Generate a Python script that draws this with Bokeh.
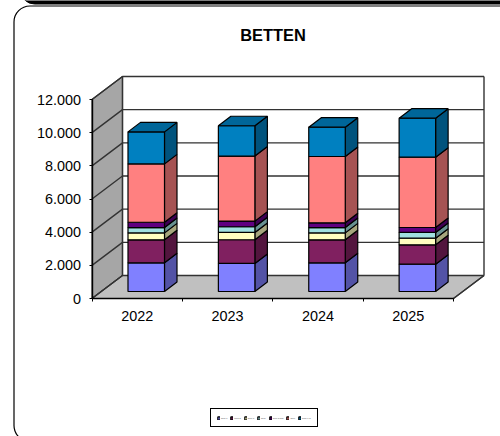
from bokeh.plotting import figure
from bokeh.models import Range1d, FixedTicker, Legend, LegendItem, Label
from bokeh.embed import file_html
from bokeh.resources import INLINE

title_text = "BETTEN"
years = ["2022", "2023", "2024", "2025"]
y_ticks = [0, 2000, 4000, 6000, 8000, 10000, 12000]
y_labels = ["0", "2.000", "4.000", "6.000", "8.000", "10.000", "12.000"]
series_names = ["Serie 1", "Serie 2", "Serie 3", "Serie", "Serie 5 lang", "Serie", "Serie 7 la"]
s1 = [1730, 1690, 1730, 1645]
s2 = [1385, 1430, 1385, 1170]
s3 = [420, 440, 420, 400]
s4 = [320, 345, 320, 345]
s5 = [320, 340, 285, 300]
s6 = [3520, 3920, 4000, 4240]
s7 = [1930, 1830, 1770, 2350]
series = [s1, s2, s3, s4, s5, s6, s7]
front_colors = ["#8080ff", "#802060", "#ffffc0", "#a0e0e0", "#600080", "#ff8080", "#0080c0"]
side_colors = ["#5353a6", "#53153e", "#a6a67d", "#689292", "#3e0053", "#a65353", "#00537d"]
top_color = "#006699"

PX_X = 90.375
PX_Y = 199 / 12000
X0, Y0 = 91.5, 298
W, H = 500, 436

def ux(px): return px / PX_X
def uy(px): return px / PX_Y
def dx(px): return (px - X0) / PX_X     # page pixel to data x
def dy(px): return (Y0 - px) / PX_Y     # page pixel to data y

p = figure(width=W, height=H, output_backend="svg", toolbar_location=None,
           x_range=Range1d(dx(0), dx(W)), y_range=Range1d(dy(H), dy(0)),
           min_border=0, outline_line_color=None,
           background_fill_color="white", border_fill_color="white")
p.grid.visible = False

# outer rounded frame and dark band
p.quad(left=[dx(13.5)], right=[dx(560)], top=[dy(5.5)], bottom=[dy(441)], fill_color=None,
       line_color="black", line_width=1.2, border_radius=16)
p.quad(left=[dx(20)], right=[dx(560)], top=[dy(-40)], bottom=[dy(3.5)], fill_color="black",
       line_color="black", border_radius=14)

DX, DY = ux(30.5), uy(23)
n = len(years)
ymax = y_ticks[-1]
line = "#333333"

p.patch([0, DX, DX, 0], [0, DY, DY + ymax, ymax], fill_color="#a6a6a6", line_color=line, line_width=1.2)
p.patch([0, DX, n + DX, n], [0, DY, DY, 0], fill_color="#c0c0c0", line_color=line, line_width=1.2)
xs_grid = [[0, DX, n + DX] for _ in y_ticks]
ys_grid = [[v, v + DY, v + DY] for v in y_ticks]
p.multi_line(xs_grid, ys_grid, line_color=line, line_width=1.4)
p.line([n + DX, n + DX], [DY, DY + ymax], line_color=line, line_width=1.4)
p.line([DX, DX], [DY, DY + ymax], line_color=line, line_width=1.4)
p.line([n, n + DX], [0, DY], line_color=line, line_width=1.4)

BAR_W = ux(36.5)
BDX, BDY = ux(12.5), uy(9.5)
OX, OY = ux(9.06), uy(7)
cum = [OY] * n
lefts = [i + 0.5 + OX - BAR_W / 2 for i in range(n)]
items = []
for vals, fc, sc, name in zip(series, front_colors, side_colors, series_names):
    bottoms = cum
    tops = [b + v for b, v in zip(bottoms, vals)]
    xs_side = [[l + BAR_W, l + BAR_W + BDX, l + BAR_W + BDX, l + BAR_W] for l in lefts]
    ys_side = [[b, b + BDY, t + BDY, t] for b, t in zip(bottoms, tops)]
    p.patches(xs_side, ys_side, fill_color=sc, line_color="black", line_width=1.2)
    r = p.vbar(x=[l + BAR_W / 2 for l in lefts], width=BAR_W, bottom=bottoms, top=tops,
               fill_color=fc, line_color="black", line_width=1.2)
    items.append(LegendItem(label=name, renderers=[r]))
    cum = tops
xs_top = [[l, l + BDX, l + BAR_W + BDX, l + BAR_W] for l in lefts]
ys_top = [[t, t + BDY, t + BDY, t] for t in cum]
p.patches(xs_top, ys_top, fill_color=top_color, line_color="black", line_width=1.2)

ya = p.yaxis[0]
ya.fixed_location = 0
ya.ticker = FixedTicker(ticks=y_ticks)
ya.major_label_overrides = dict(zip(y_ticks, y_labels))
ya.bounds = (0, ymax)
ya.major_tick_out = 3
ya.major_tick_in = 0
ya.minor_tick_out = 0
ya.minor_tick_in = 0
ya.axis_line_color = "black"
ya.axis_line_width = 1.4
ya.major_tick_line_color = "black"
ya.major_label_standoff = 8
ya.major_label_text_font = "Liberation Sans"
ya.major_label_text_font_size = "14.4px"
ya.major_label_text_color = "black"

xa = p.xaxis[0]
xa.fixed_location = 0
centers = [i + 0.5 for i in range(n)]
xa.ticker = FixedTicker(ticks=centers, minor_ticks=list(range(n + 1)))
xa.major_label_overrides = dict(zip(centers, years))
xa.bounds = (0, n)
xa.major_tick_out = 0
xa.major_tick_in = 0
xa.minor_tick_out = 3
xa.minor_tick_in = 0
xa.minor_tick_line_color = "black"
xa.axis_line_color = "black"
xa.axis_line_width = 1.4
xa.major_label_standoff = 9
xa.major_label_text_font = "Liberation Sans"
xa.major_label_text_font_size = "14.4px"
xa.major_label_text_color = "black"

p.add_layout(Label(x=dx(272.5), y=dy(34), text=title_text, text_font="Liberation Sans",
                   text_font_style="bold", text_font_size="16.4px", text_color="black",
                   text_align="center", text_baseline="middle"))

lg = Legend(items=items, orientation="horizontal", location=(210, 9),
            glyph_width=3, glyph_height=4, label_text_font="Liberation Sans",
            label_text_font_size="2px", label_standoff=1, label_width=1, label_height=5,
            spacing=3, padding=6, margin=0,
            border_line_color="black", border_line_width=1.2, border_line_alpha=1,
            background_fill_color="white", background_fill_alpha=1)
p.add_layout(lg, "center")

open("out.html", "w").write(file_html(p, INLINE))
